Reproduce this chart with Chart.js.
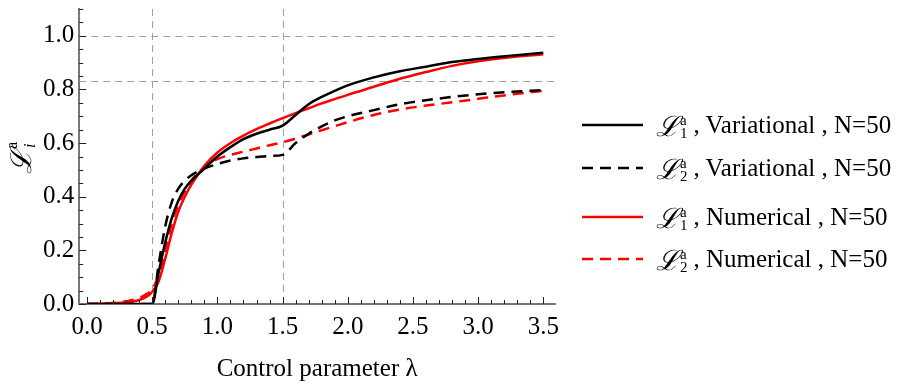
<!DOCTYPE html>
<html>
<head>
<meta charset="utf-8">
<script src="https://cdn.jsdelivr.net/npm/chart.js@4.4.0/dist/chart.umd.min.js"></script>
<style>
  html, body { margin: 0; padding: 0; background: #fff; }
  #wrap { position: relative; width: 898px; height: 385px; }
  #legend { position: absolute; left: 0; top: 0; font-family: "Liberation Serif", serif; font-size: 25px; color: #000; }
  .row { position: absolute; left: 582px; height: 30px; display: flex; align-items: center; white-space: nowrap; }
  .row svg { margin-right: 13px; }
  .L { font-size: 28px; }
  .ss { display: inline-flex; flex-direction: column; font-size: 15px; line-height: 13px; margin-left: 1px; margin-right: 6px; position: relative; top: 2px; }
</style>
</head>
<body>
<div id="wrap">
  <canvas id="chart" width="898" height="385"></canvas>
  <div id="legend"></div>
</div>
<script>
// control parameter lambda
const lambda = [0, 0.1, 0.2, 0.3, 0.4, 0.45, 0.5, 0.55, 0.6, 0.65, 0.7, 0.75, 0.8, 0.9, 1.0, 1.1, 1.2, 1.3, 1.4, 1.5, 1.6, 1.7, 1.8, 1.9, 2.0, 2.2, 2.4, 2.6, 2.8, 3.0, 3.25, 3.5];

// L1 / L2, variational and numerical (N=50)
const l1Variational = [0, 0, 0, 0, 0, 0, 0, 0.12, 0.23, 0.32, 0.385, 0.43, 0.46, 0.505, 0.55, 0.585, 0.615, 0.635, 0.65, 0.665, 0.705, 0.745, 0.772, 0.795, 0.815, 0.845, 0.868, 0.885, 0.902, 0.914, 0.926, 0.937];
const l2Variational = [0, 0, 0, 0, 0, 0, 0, 0.15, 0.29, 0.38, 0.43, 0.46, 0.48, 0.505, 0.522, 0.535, 0.543, 0.548, 0.552, 0.556, 0.60, 0.635, 0.662, 0.685, 0.70, 0.723, 0.745, 0.76, 0.772, 0.782, 0.791, 0.798];
const l1Numerical = [0, 0.001, 0.003, 0.006, 0.015, 0.025, 0.045, 0.085, 0.17, 0.265, 0.345, 0.40, 0.445, 0.515, 0.565, 0.60, 0.628, 0.652, 0.673, 0.693, 0.712, 0.73, 0.748, 0.764, 0.78, 0.81, 0.84, 0.865, 0.888, 0.905, 0.92, 0.931];
const l2Numerical = [0, 0.001, 0.004, 0.01, 0.022, 0.035, 0.055, 0.11, 0.2, 0.3, 0.37, 0.42, 0.46, 0.51, 0.54, 0.556, 0.568, 0.58, 0.592, 0.603, 0.617, 0.632, 0.648, 0.663, 0.678, 0.705, 0.725, 0.74, 0.752, 0.765, 0.781, 0.795];

const xTicks = [0, 0.5, 1, 1.5, 2, 2.5, 3, 3.5];
const yTicks = [0, 0.2, 0.4, 0.6, 0.8, 1.0];
const refX = [0.5, 1.5];
const refY = [1.0, 5 / 6];

const seriesNames = ['Variational', 'Variational', 'Numerical', 'Numerical'];
const seriesIndex = ['1', '2', '1', '2'];
const seriesColors = ['#000000', '#000000', '#ff0000', '#ff0000'];
const seriesDashed = [false, true, false, true];
const seriesData = [l1Variational, l2Variational, l1Numerical, l2Numerical];

const dash = [11, 7];
const fontFam = '"Liberation Serif", "Times New Roman", serif';

// dashed reference lines + inward ticks + y axis title
const extras = {
  id: 'extras',
  beforeDatasetsDraw(chart) {
    const { ctx, chartArea: a, scales: { x, y } } = chart;
    ctx.save();
    ctx.strokeStyle = '#a0a0a0';
    ctx.lineWidth = 1;
    ctx.setLineDash([7, 5]);
    refY.forEach(v => {
      const py = Math.round(y.getPixelForValue(v)) + 0.5;
      ctx.beginPath(); ctx.moveTo(a.left, py); ctx.lineTo(a.right, py); ctx.stroke();
    });
    refX.forEach(v => {
      const px = Math.round(x.getPixelForValue(v)) + 0.5;
      ctx.beginPath(); ctx.moveTo(px, a.top); ctx.lineTo(px, a.bottom); ctx.stroke();
    });
    ctx.restore();
  },
  afterDraw(chart) {
    const { ctx, chartArea: a, scales: { x, y } } = chart;
    ctx.save();
    ctx.strokeStyle = '#222';
    ctx.lineWidth = 1;
    for (let i = 0; i <= 35; i++) {
      const v = i / 10;
      const px = Math.round(x.getPixelForValue(v)) + 0.5;
      const len = i % 5 === 0 ? 7 : 4;
      ctx.beginPath(); ctx.moveTo(px, a.bottom); ctx.lineTo(px, a.bottom - len); ctx.stroke();
    }
    for (let i = 0; i <= 22; i++) {
      const v = i / 20;
      const py = Math.round(y.getPixelForValue(v)) + 0.5;
      const len = i % 4 === 0 ? 7 : 4;
      ctx.beginPath(); ctx.moveTo(a.left, py); ctx.lineTo(a.left + len, py); ctx.stroke();
    }
    // y title: L_i^a
    ctx.translate(31, 174);
    ctx.rotate(-Math.PI / 2);
    ctx.fillStyle = '#000';
    ctx.textBaseline = 'alphabetic';
    ctx.font = 'italic 29px ' + fontFam;
    ctx.fillText('ℒ', 0, 0);
    const w = ctx.measureText('ℒ').width;
    ctx.font = '16px ' + fontFam;
    ctx.fillText('a', w + 1, -14);
    ctx.font = 'italic 16px ' + fontFam;
    ctx.fillText('i', w + 2, 4);
    ctx.restore();
  }
};

new Chart(document.getElementById('chart'), {
  type: 'line',
  data: {
    datasets: seriesData.map((vals, i) => ({
      label: 'L' + seriesIndex[i] + ' ' + seriesNames[i],
      data: lambda.map((l, k) => ({ x: l, y: vals[k] })),
      borderColor: seriesColors[i],
      borderWidth: 2.5,
      borderDash: seriesDashed[i] ? dash : [],
      pointRadius: 0,
      cubicInterpolationMode: 'monotone',
      fill: false
    }))
  },
  options: {
    responsive: false,
    animation: false,
    layout: { padding: { left: 38, right: 343, top: 9, bottom: 1 } },
    plugins: { legend: { display: false }, tooltip: { enabled: false } },
    scales: {
      x: {
        type: 'linear',
        min: -0.06,
        max: 3.59,
        afterBuildTicks: s => { s.ticks = xTicks.map(v => ({ value: v })); },
        afterFit: s => { s.paddingLeft = 0; s.paddingRight = 0; },
        grid: { display: false, drawTicks: false },
        border: { display: true, color: '#777', width: 2 },
        ticks: {
          padding: 8,
          color: '#000',
          font: { family: fontFam, size: 25 },
          callback: v => v.toFixed(1),
          maxRotation: 0
        },
        title: {
          display: true,
          text: 'Control parameter λ',
          color: '#000',
          font: { family: fontFam, size: 25 },
          padding: { top: 4, bottom: 0 }
        }
      },
      y: {
        min: 0,
        max: 1.1,
        afterBuildTicks: s => { s.ticks = yTicks.map(v => ({ value: v })); },
        afterFit: s => { s.paddingTop = 0; s.paddingBottom = 0; },
        grid: { display: false, drawTicks: false },
        border: { display: true, color: '#777', width: 2 },
        ticks: {
          padding: 5,
          color: '#000',
          font: { family: fontFam, size: 25 },
          callback: v => v.toFixed(1)
        }
      }
    }
  },
  plugins: [extras]
});

// legend with stacked sub/superscripts
const legendRows = [125, 168, 217, 259];
const legendEl = document.getElementById('legend');
seriesData.forEach((_, i) => {
  const row = document.createElement('div');
  row.className = 'row';
  row.style.top = (legendRows[i] - 15) + 'px';
  const dashAttr = seriesDashed[i] ? ' stroke-dasharray="' + dash.join(' ') + '"' : '';
  row.innerHTML =
    '<svg width="61" height="6"><line x1="0" y1="3" x2="61" y2="3" stroke="' + seriesColors[i] +
    '" stroke-width="2.5"' + dashAttr + '/></svg>' +
    '<span class="L"><i>ℒ</i></span>' +
    '<span class="ss"><span>a</span><span>' + seriesIndex[i] + '</span></span>' +
    '<span>, ' + seriesNames[i] + ' , N=50</span>';
  legendEl.appendChild(row);
});
</script>
</body>
</html>
